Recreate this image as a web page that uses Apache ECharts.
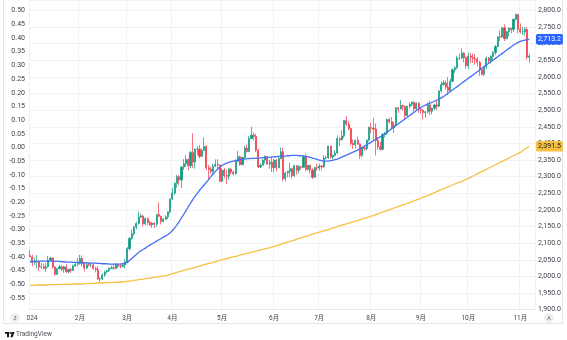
<!DOCTYPE html>
<html>
<head>
<meta charset="utf-8">
<script src="https://cdn.jsdelivr.net/npm/echarts@6/dist/echarts.min.js"></script>
<style>
  html, body { margin: 0; padding: 0; background: #ffffff; }
  #chart { width: 567px; height: 340px; }
</style>
</head>
<body>
<div id="chart"></div>
<script>
// Daily XAU bars, one row per session: [open, high, low, close]
const janBars = [
  [2063,2079,2058,2059],[2059,2065,2030,2042],[2042,2057,2035,2043],[2043,2064,2024,2045],
  [2045,2048,2016,2028],[2028,2040,2021,2029],[2029,2038,2021,2024],[2024,2040,2014,2029],
  [2029,2062,2027,2049],[2049,2059,2046,2055],[2055,2057,2023,2028],[2028,2031,2002,2006],
  [2006,2026,2005,2023],[2023,2035,2021,2029],[2029,2033,2016,2021],[2021,2032,2011,2029],
  [2029,2037,2010,2014],[2014,2023,2009,2021],[2021,2026,2010,2018],[2018,2035,2016,2032],
  [2032,2043,2028,2037],[2037,2055,2030,2039]
];
const febBars = [
  [2039,2065,2035,2054],[2054,2063,2030,2039],[2039,2040,2015,2025],[2025,2039,2022,2035],
  [2035,2043,2030,2034],[2034,2042,2027,2034],[2034,2040,2020,2024],[2024,2029,2012,2020],
  [2020,2031,1990,1992],[1992,1998,1984,1992],[1992,2009,1989,2004],[2004,2017,1998,2013],
  [2013,2020,2011,2017],[2017,2027,2013,2024],[2024,2033,2021,2026],[2026,2035,2020,2024],
  [2024,2041,2022,2035],[2035,2037,2025,2031],[2031,2038,2025,2030],[2030,2038,2027,2034],
  [2034,2052,2024,2044]
];
const marBars = [
  [2044,2088,2040,2083],[2083,2119,2078,2114],[2114,2141,2110,2128],[2128,2152,2123,2148],
  [2148,2164,2141,2159],[2159,2195,2155,2179],[2179,2189,2175,2182],[2182,2185,2150,2158],
  [2158,2178,2154,2174],[2174,2176,2154,2162],[2162,2167,2151,2155],[2155,2163,2146,2160],
  [2160,2163,2146,2157],[2157,2187,2150,2186],[2186,2222,2180,2181],[2181,2183,2156,2165],
  [2165,2176,2163,2172],[2172,2184,2170,2179],[2179,2195,2172,2194],[2194,2235,2189,2233]
];
const aprBars = [
  [2233,2266,2229,2251],[2251,2283,2245,2280],[2280,2305,2267,2300],[2300,2305,2275,2290],
  [2290,2331,2266,2329],[2329,2353,2320,2339],[2339,2365,2329,2352],[2352,2355,2319,2333],
  [2333,2378,2325,2373],[2373,2431,2326,2344],[2344,2385,2324,2383],[2383,2392,2365,2383],
  [2383,2395,2355,2361],[2361,2385,2360,2379],[2379,2418,2377,2391],[2391,2395,2320,2327],
  [2327,2335,2292,2322],[2322,2330,2309,2316],[2316,2339,2305,2332],[2332,2352,2328,2337],
  [2337,2353,2325,2335],[2335,2336,2285,2286]
];
const mayBars = [
  [2286,2326,2285,2320],[2320,2326,2295,2303],[2303,2320,2277,2301],[2301,2326,2291,2323],
  [2323,2327,2307,2314],[2314,2318,2303,2309],[2309,2351,2306,2346],[2346,2378,2345,2360],
  [2360,2364,2333,2336],[2336,2360,2335,2358],[2358,2393,2354,2386],[2386,2397,2373,2376],
  [2376,2422,2374,2415],[2415,2450,2413,2425],[2425,2433,2409,2421],[2421,2429,2374,2379],
  [2379,2384,2326,2329],[2329,2340,2326,2334],[2334,2354,2334,2350],[2350,2364,2340,2361],
  [2361,2362,2335,2338],[2338,2351,2324,2343],[2343,2360,2314,2327]
];
const junBars = [
  [2327,2353,2314,2350],[2350,2354,2316,2327],[2327,2360,2325,2355],[2355,2388,2352,2375],
  [2375,2387,2287,2294],[2294,2315,2286,2311],[2311,2318,2298,2316],[2316,2342,2299,2324],
  [2324,2327,2295,2303],[2303,2336,2299,2333],[2333,2334,2306,2319],[2319,2335,2310,2330],
  [2330,2333,2321,2328],[2328,2365,2327,2360],[2360,2369,2317,2322],[2322,2335,2318,2334],
  [2334,2336,2310,2320],[2320,2325,2293,2298],[2298,2330,2297,2327],[2327,2340,2318,2326]
];
const julBars = [
  [2326,2339,2318,2332],[2332,2336,2319,2330],[2330,2365,2326,2356],[2356,2363,2352,2357],
  [2357,2392,2353,2392],[2392,2393,2353,2359],[2359,2366,2352,2364],[2364,2380,2361,2371],
  [2371,2424,2368,2415],[2415,2418,2392,2411],[2411,2440,2409,2422],[2422,2469,2416,2469],
  [2469,2483,2452,2458],[2458,2468,2440,2445],[2445,2448,2394,2400],[2400,2412,2384,2396],
  [2396,2412,2385,2409],[2409,2421,2395,2398],[2398,2400,2353,2364],[2364,2390,2358,2387],
  [2387,2393,2378,2384],[2384,2412,2379,2410],[2410,2451,2406,2448]
];
const augBars = [
  [2448,2462,2431,2446],[2446,2477,2410,2443],[2443,2461,2364,2409],[2409,2419,2381,2390],
  [2390,2404,2378,2382],[2382,2432,2380,2427],[2427,2434,2418,2431],[2431,2475,2425,2472],
  [2472,2478,2459,2465],[2465,2479,2442,2447],[2447,2466,2432,2455],[2455,2509,2454,2507],
  [2507,2510,2492,2504],[2504,2531,2502,2514],[2514,2517,2499,2512],[2512,2514,2470,2484],
  [2484,2512,2482,2512],[2512,2524,2505,2518],[2518,2526,2511,2524],[2524,2526,2496,2504],
  [2504,2524,2502,2521],[2521,2524,2492,2503]
];
const sepBars = [
  [2503,2506,2490,2500],[2500,2503,2472,2493],[2493,2497,2477,2495],[2495,2524,2490,2516],
  [2516,2529,2485,2497],[2497,2508,2487,2506],[2506,2518,2500,2516],[2516,2529,2500,2512],
  [2512,2560,2510,2558],[2558,2586,2553,2577],[2577,2590,2574,2582],[2582,2589,2562,2569],
  [2569,2600,2546,2559],[2559,2595,2554,2587],[2587,2625,2584,2622],[2622,2633,2612,2628],
  [2628,2664,2623,2657],[2657,2670,2651,2657],[2657,2686,2654,2672],[2672,2675,2644,2658],
  [2658,2662,2625,2634]
];
const octBars = [
  [2634,2673,2624,2663],[2663,2672,2642,2659],[2659,2670,2642,2656],[2656,2669,2637,2653],
  [2653,2660,2632,2644],[2644,2649,2604,2622],[2622,2625,2605,2608],[2608,2634,2603,2631],
  [2631,2662,2624,2657],[2657,2660,2640,2648],[2648,2665,2640,2662],[2662,2678,2652,2674],
  [2674,2696,2666,2692],[2692,2722,2690,2721],[2721,2740,2708,2720],[2720,2749,2718,2748],
  [2748,2758,2708,2715],[2715,2738,2714,2736],[2736,2749,2722,2747],[2747,2748,2731,2743],
  [2743,2775,2735,2774],[2774,2790,2770,2788],[2788,2790,2731,2744]
];
const novBars = [
  [2744,2761,2730,2736],[2736,2750,2727,2736],[2736,2750,2724,2743],[2743,2750,2652,2659],
  [2659,2670,2643,2663]
];

// Short moving average (blue), one value per session
const maFast = [
  2044,2044,2045,2045,2045,2046,2046,2046,2046,2046,2046,2045,2045,2045,2044,2044,2043,2043,2043,2042,2042,2042,
  2042,2041,2041,2041,2040,2040,2040,2040,2039,2039,2038,2038,2038,2037,2037,2037,2037,2037,2037,2038,2039,
  2042,2048,2054,2060,2066,2072,2077,2081,2085,2090,2094,2098,2102,2106,2110,2114,2118,2122,2126,2131,
  2138,2146,2155,2165,2176,2187,2198,2209,2220,2231,2241,2250,2259,2267,2275,2283,2291,2300,2308,2316,2323,2329,
  2334,2338,2341,2343,2345,2347,2349,2350,2351,2352,2353,2354,2354,2355,2355,2356,2356,2356,2357,2357,2358,2358,2359,
  2360,2360,2361,2361,2362,2362,2363,2363,2364,2364,2364,2363,2363,2362,2361,2360,2358,2356,2354,2352,
  2350,2348,2347,2347,2347,2348,2349,2351,2353,2356,2359,2362,2365,2368,2371,2374,2377,2380,2384,2388,2392,2396,2400,
  2404,2408,2412,2416,2420,2424,2429,2434,2439,2444,2449,2454,2459,2464,2469,2474,2479,2484,2489,2494,2499,2504,
  2508,2512,2515,2518,2521,2524,2527,2530,2533,2537,2541,2546,2551,2556,2561,2566,2571,2576,2581,2586,2591,
  2596,2601,2606,2611,2616,2621,2626,2631,2636,2641,2646,2651,2656,2661,2666,2671,2676,2681,2686,2691,2696,2700,2704,
  2707,2709,2711,2712,2713.2
];

// Long moving average (yellow), one value per session
const maSlow = [
  1973,1973,1973,1974,1974,1974,1974,1974,1975,1975,1975,1975,1975,1976,1976,1976,1976,1976,1976,1977,1977,1977,
  1977,1977,1978,1978,1978,1979,1979,1979,1980,1980,1980,1981,1981,1981,1982,1982,1982,1983,1983,1983,1984,
  1985,1986,1987,1988,1989,1990,1991,1992,1993,1994,1995,1996,1997,1998,1999,2000,2001,2002,2004,2006,
  2008,2010,2012,2014,2016,2018,2020,2022,2023,2025,2027,2029,2031,2033,2035,2037,2039,2040,2042,2044,2046,2048,
  2050,2052,2053,2055,2057,2059,2060,2062,2064,2066,2067,2069,2071,2073,2074,2076,2078,2079,2081,2083,2085,2086,2088,
  2090,2092,2094,2096,2099,2101,2103,2105,2107,2109,2112,2114,2116,2118,2120,2122,2125,2127,2129,2131,
  2133,2135,2137,2139,2141,2143,2145,2147,2150,2152,2154,2156,2158,2160,2162,2164,2166,2168,2171,2173,2175,2177,2179,
  2181,2183,2186,2188,2191,2193,2196,2198,2200,2203,2205,2208,2210,2213,2215,2217,2220,2222,2225,2227,2230,2232,
  2235,2238,2241,2243,2246,2249,2252,2255,2258,2261,2264,2266,2269,2272,2275,2278,2281,2283,2286,2289,2292,
  2295,2298,2302,2305,2309,2312,2315,2319,2322,2326,2329,2332,2336,2339,2343,2346,2349,2353,2356,2360,2363,2366,2370,
  2373,2378,2383,2387,2391.5
];

// Time-axis labels, one per calendar month (index 0 = January)
const monthLabels = ['2024','2月','3月','4月','5月','6月','7月','8月','9月','10月','11月','12月'];
const marketHolidays = ['2024-03-29'];
const firstSession = '2024-01-02';

const bars = [].concat(janBars, febBars, marBars, aprBars, mayBars, junBars,
                       julBars, augBars, sepBars, octBars, novBars);

// Build the weekday session calendar for the bars
function pad(n) { return (n < 10 ? '0' : '') + n; }
const sessions = [];
(function () {
  const d = new Date(firstSession + 'T00:00:00Z');
  while (sessions.length < bars.length) {
    const wd = d.getUTCDay();
    const s = d.getUTCFullYear() + '-' + pad(d.getUTCMonth() + 1) + '-' + pad(d.getUTCDate());
    if (wd !== 0 && wd !== 6 && marketHolidays.indexOf(s) < 0) sessions.push(s);
    d.setUTCDate(d.getUTCDate() + 1);
  }
})();

// First session of each month carries the month label
const monthStart = {};
let prevMonth = -1;
sessions.forEach(function (s, i) {
  const m = +s.slice(5, 7) - 1;
  if (m !== prevMonth) { monthStart[i] = monthLabels[m]; prevMonth = m; }
});
const isMonthStart = function (i) { return monthStart[i] !== undefined; };

// Two empty sessions of right-hand margin after the last bar
const categories = sessions.concat(['', '']);

const FONT = 'Roboto, "Noto Sans CJK SC", "Noto Sans", sans-serif';
const UP = '#089981', DOWN = '#f23645';
const GRID = '#f1f2f6';
const fmtPrice = function (v) {
  return v.toLocaleString('en-US', { minimumFractionDigits: 1, maximumFractionDigits: 1 });
};

// Price tag on the right scale for the last value of a line series
function lastValueTag(values, bg, fg) {
  const last = values[values.length - 1];
  return {
    silent: true, symbol: 'none', animation: false,
    lineStyle: { color: 'rgba(0,0,0,0)', width: 1, type: 'solid' },
    data: [{ yAxis: last }],
    label: {
      show: true, position: 'end', distance: 1,
      formatter: fmtPrice(last),
      backgroundColor: bg, color: fg,
      fontSize: 7, fontFamily: FONT, padding: [2, 2, 1.5, 2], borderRadius: 1.5
    }
  };
}

const chart = echarts.init(document.getElementById('chart'), null, { renderer: 'canvas' });

chart.setOption({
  animation: false,
  backgroundColor: '#ffffff',
  grid: [
    { left: 29, right: 32, top: 0, bottom: 30.4, containLabel: false },
    { left: 29, right: 32, top: 10.7, bottom: 28.34, containLabel: false }
  ],
  xAxis: [
    {
      type: 'category',
      gridIndex: 0,
      data: categories,
      boundaryGap: true,
      axisLine: { show: true, lineStyle: { color: '#e6e8ee', width: 1 } },
      axisTick: { show: false },
      axisLabel: {
        interval: function (i) { return isMonthStart(i); },
        formatter: function (v, i) { return monthStart[i] || ''; },
        color: '#3e424c', fontSize: 6.5, fontFamily: FONT, margin: 6
      },
      splitLine: {
        show: true,
        interval: function (i) { return isMonthStart(i); },
        lineStyle: { color: GRID, width: 1 }
      }
    },
    { type: 'value', gridIndex: 1, show: false, min: 0, max: 1 }
  ],
  yAxis: [
    {
      type: 'value',
      gridIndex: 0,
      position: 'right',
      min: 1900,
      max: 2831.6,
      interval: 50,
      axisLine: { show: false },
      axisTick: { show: false },
      axisLabel: {
        margin: 3,
        color: '#3e424c', fontSize: 7, fontFamily: FONT,
        formatter: function (v) { return Math.abs(v % 50) > 0.01 ? '' : fmtPrice(v); }
      },
      splitLine: { show: true, lineStyle: { color: GRID, width: 1 } }
    },
    {
      type: 'value',
      gridIndex: 1,
      position: 'left',
      min: -0.6,
      max: 0.5,
      interval: 0.05,
      axisLine: { show: false },
      axisTick: { show: false },
      splitLine: { show: false },
      axisLabel: {
        margin: 4,
        color: '#3e424c', fontSize: 7, fontFamily: FONT,
        formatter: function (v) {
          if (v < -0.575) return '';
          if (Math.abs(v) < 1e-9) return '0.00';
          return v.toFixed(2);
        }
      }
    }
  ],
  series: [
    {
      type: 'candlestick',
      xAxisIndex: 0, yAxisIndex: 0,
      barWidth: 1.6,
      data: bars.map(function (b) { return [b[0], b[3], b[2], b[1]]; }),
      itemStyle: {
        color: UP, color0: DOWN,
        borderColor: UP, borderColor0: DOWN,
        borderWidth: 0.7
      }
    },
    {
      type: 'line',
      xAxisIndex: 0, yAxisIndex: 0,
      data: maFast,
      showSymbol: false, symbol: 'none',
      lineStyle: { color: '#4470f5', width: 1.3 },
      z: 3,
      markLine: lastValueTag(maFast, '#2962ff', '#ffffff')
    },
    {
      type: 'line',
      xAxisIndex: 0, yAxisIndex: 0,
      data: maSlow,
      showSymbol: false, symbol: 'none',
      lineStyle: { color: '#f7c03f', width: 1.3 },
      z: 3,
      markLine: lastValueTag(maSlow, '#f7c03f', '#131722')
    }
  ],
  graphic: [
    // panel frame
    { type: 'rect', silent: true, z: 0,
      shape: { x: 3.5, y: -1, width: 559, height: 324.5 },
      style: { fill: 'none', stroke: '#e3e5ea', lineWidth: 1 } },
    // time-axis row: mask under the left edge and the two buttons
    { type: 'rect', silent: true, z: 100,
      shape: { x: 4, y: 312, width: 23, height: 11 },
      style: { fill: '#ffffff' } },
    { type: 'circle', silent: true, z: 101,
      shape: { cx: 15, cy: 318, r: 5 },
      style: { fill: '#eef0f4' } },
    { type: 'text', silent: true, z: 102, x: 15, y: 318,
      style: { text: 'z', fill: '#6a6d78', fontSize: 6.5, fontFamily: FONT,
               align: 'center', verticalAlign: 'middle' } },
    { type: 'circle', silent: true, z: 101,
      shape: { cx: 549, cy: 318, r: 5 },
      style: { fill: '#eef0f4' } },
    { type: 'text', silent: true, z: 102, x: 549, y: 318,
      style: { text: 'A', fill: '#6a6d78', fontSize: 6, fontFamily: FONT,
               align: 'center', verticalAlign: 'middle' } },
    // brand mark
    { type: 'rect', silent: true, shape: { x: 5, y: 332, width: 4.5, height: 1.8 },
      style: { fill: '#131722' } },
    { type: 'rect', silent: true, shape: { x: 7, y: 332, width: 2, height: 5.2 },
      style: { fill: '#131722' } },
    { type: 'circle', silent: true, shape: { cx: 11, cy: 333, r: 1 },
      style: { fill: '#131722' } },
    { type: 'polygon', silent: true,
      shape: { points: [[12.2, 332], [14.6, 332], [12.6, 337.2], [10.4, 337.2]] },
      style: { fill: '#131722' } },
    { type: 'text', silent: true, x: 16, y: 334.8,
      style: { text: 'TradingView', fill: '#4a4d57', fontSize: 6.5, fontFamily: FONT,
               verticalAlign: 'middle' } }
  ]
});
</script>
</body>
</html>
